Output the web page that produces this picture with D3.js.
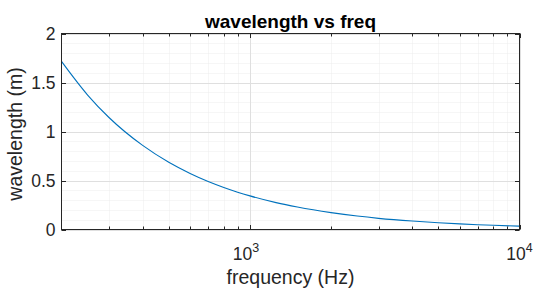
<!DOCTYPE html>
<html>
<head>
<meta charset="utf-8">
<script src="https://cdn.jsdelivr.net/npm/d3@7"></script>
<style>
  html, body { margin: 0; padding: 0; background: #fff; }
  svg { display: block; }
  text { font-family: "Liberation Sans", Arial, sans-serif; fill: #262626; }
</style>
</head>
<body>
<div id="display"></div>
<script>
/*
wavelength vs freq -- matlab style log-x plot
*/

// ------- data ---------------------------------

var freq_hz = [200, 250, 300, 400, 500, 600, 700, 800, 900, 1000, 1250, 1500,
               2000, 2500, 3000, 4000, 5000, 6000, 7000, 8000, 10000];
var wavelength_m = [1.715, 1.372, 1.143, 0.858, 0.686, 0.572, 0.49, 0.429, 0.381, 0.343, 0.274, 0.229,
                    0.172, 0.137, 0.114, 0.086, 0.069, 0.057, 0.049, 0.043, 0.034];

var x_domain = [200, 10000];
var y_domain = [0, 2];
var x_major = [1000, 10000];
var x_major_exp = ["3", "4"];
var x_minor = [300, 400, 500, 600, 700, 800, 900, 2000, 3000, 4000, 5000, 6000, 7000, 8000, 9000];
var y_major = [0, 0.5, 1, 1.5, 2];
var y_labels = ["0", "0.5", "1", "1.5", "2"];
var y_minor = [0.1, 0.2, 0.3, 0.4, 0.6, 0.7, 0.8, 0.9, 1.1, 1.2, 1.3, 1.4, 1.6, 1.7, 1.8, 1.9];

var title_text = "wavelength vs freq";
var x_title = "frequency (Hz)";
var y_title = "wavelength (m)";

// ------ setup --------

var W = 534, H = 290;
var box = {left: 61.5, right: 519.5, top: 33.5, bottom: 229.5};

var svg = d3.select("#display").append("svg")
  .attr("width", W)
  .attr("height", H);

var x = d3.scaleLog().domain(x_domain).range([box.left, box.right]);
var y = d3.scaleLinear().domain(y_domain).range([box.bottom, box.top]);

var axis_col = "#262626";

// ------ grids --------

var grid = svg.append("g");

// minor grid, faint dotted
grid.selectAll("line.xmin").data(x_minor).enter().append("line")
  .attr("x1", function(d){ return Math.round(x(d)) + 0.5 })
  .attr("x2", function(d){ return Math.round(x(d)) + 0.5 })
  .attr("y1", box.top).attr("y2", box.bottom)
  .attr("stroke", "#ededed").attr("stroke-dasharray", "1,1");

grid.selectAll("line.ymin").data(y_minor).enter().append("line")
  .attr("y1", function(d){ return Math.round(y(d)) + 0.5 })
  .attr("y2", function(d){ return Math.round(y(d)) + 0.5 })
  .attr("x1", box.left).attr("x2", box.right)
  .attr("stroke", "#ededed").attr("stroke-dasharray", "1,1");

// major grid
grid.selectAll("line.xmaj").data(x_major).enter().append("line")
  .attr("x1", function(d){ return Math.round(x(d)) + 0.5 })
  .attr("x2", function(d){ return Math.round(x(d)) + 0.5 })
  .attr("y1", box.top).attr("y2", box.bottom)
  .attr("stroke", "#dfdfdf");

grid.selectAll("line.ymaj").data(y_major).enter().append("line")
  .attr("y1", function(d){ return Math.round(y(d)) + 0.5 })
  .attr("y2", function(d){ return Math.round(y(d)) + 0.5 })
  .attr("x1", box.left).attr("x2", box.right)
  .attr("stroke", "#dfdfdf");

// ------ curve --------

var pts = freq_hz.map(function(f, i){ return [f, wavelength_m[i]] });

svg.append("path")
  .datum(pts)
  .attr("fill", "none")
  .attr("stroke", "#0072BD")
  .attr("stroke-width", 1.1)
  .attr("d", d3.line()
    .x(function(d){ return x(d[0]) })
    .y(function(d){ return y(d[1]) })
    .curve(d3.curveMonotoneX));

// ------ axes (ticks inward, box all round) --------

var ax = svg.append("g").attr("stroke", axis_col).attr("fill", "none");

function xticks(vals, len){
  vals.forEach(function(d){
    var px = Math.round(x(d)) + 0.5;
    ax.append("line").attr("x1", px).attr("x2", px)
      .attr("y1", box.bottom).attr("y2", box.bottom - len);
    ax.append("line").attr("x1", px).attr("x2", px)
      .attr("y1", box.top).attr("y2", box.top + len);
  });
}
xticks(x_minor, 3);
xticks(x_major, 4.5);

y_major.forEach(function(d){
  var py = Math.round(y(d)) + 0.5;
  ax.append("line").attr("x1", box.left).attr("x2", box.left + 4.5)
    .attr("y1", py).attr("y2", py);
  ax.append("line").attr("x1", box.right).attr("x2", box.right - 4.5)
    .attr("y1", py).attr("y2", py);
});

ax.append("rect")
  .attr("x", box.left).attr("y", box.top)
  .attr("width", box.right - box.left)
  .attr("height", box.bottom - box.top);

// ------ tick labels --------

svg.selectAll("text.ylab").data(y_major).enter().append("text")
  .attr("x", box.left - 6)
  .attr("y", function(d){ return y(d) })
  .attr("dy", "0.35em")
  .attr("text-anchor", "end")
  .style("font-size", "17.5px")
  .text(function(d, i){ return y_labels[i] });

x_major.forEach(function(d, i){
  var t = svg.append("text")
    .attr("x", x(d) - 4 + (i == 1 ? 4 : 0))
    .attr("y", 260)
    .attr("text-anchor", "middle")
    .style("font-size", "17.5px");
  t.append("tspan").text("10");
  t.append("tspan").attr("dy", -8).style("font-size", "12.5px").text(x_major_exp[i]);
});

// ------ titles --------

svg.append("text")
  .attr("x", (box.left + box.right) / 2)
  .attr("y", 28)
  .attr("text-anchor", "middle")
  .style("font-size", "19px")
  .style("font-weight", "bold")
  .style("fill", "#000")
  .text(title_text);

svg.append("text")
  .attr("x", (box.left + box.right) / 2)
  .attr("y", 284)
  .attr("text-anchor", "middle")
  .style("font-size", "19.5px")
  .text(x_title);

svg.append("text")
  .attr("transform", "translate(22," + 134 + ") rotate(-90)")
  .attr("text-anchor", "middle")
  .style("font-size", "19.5px")
  .text(y_title);
</script>
</body>
</html>
